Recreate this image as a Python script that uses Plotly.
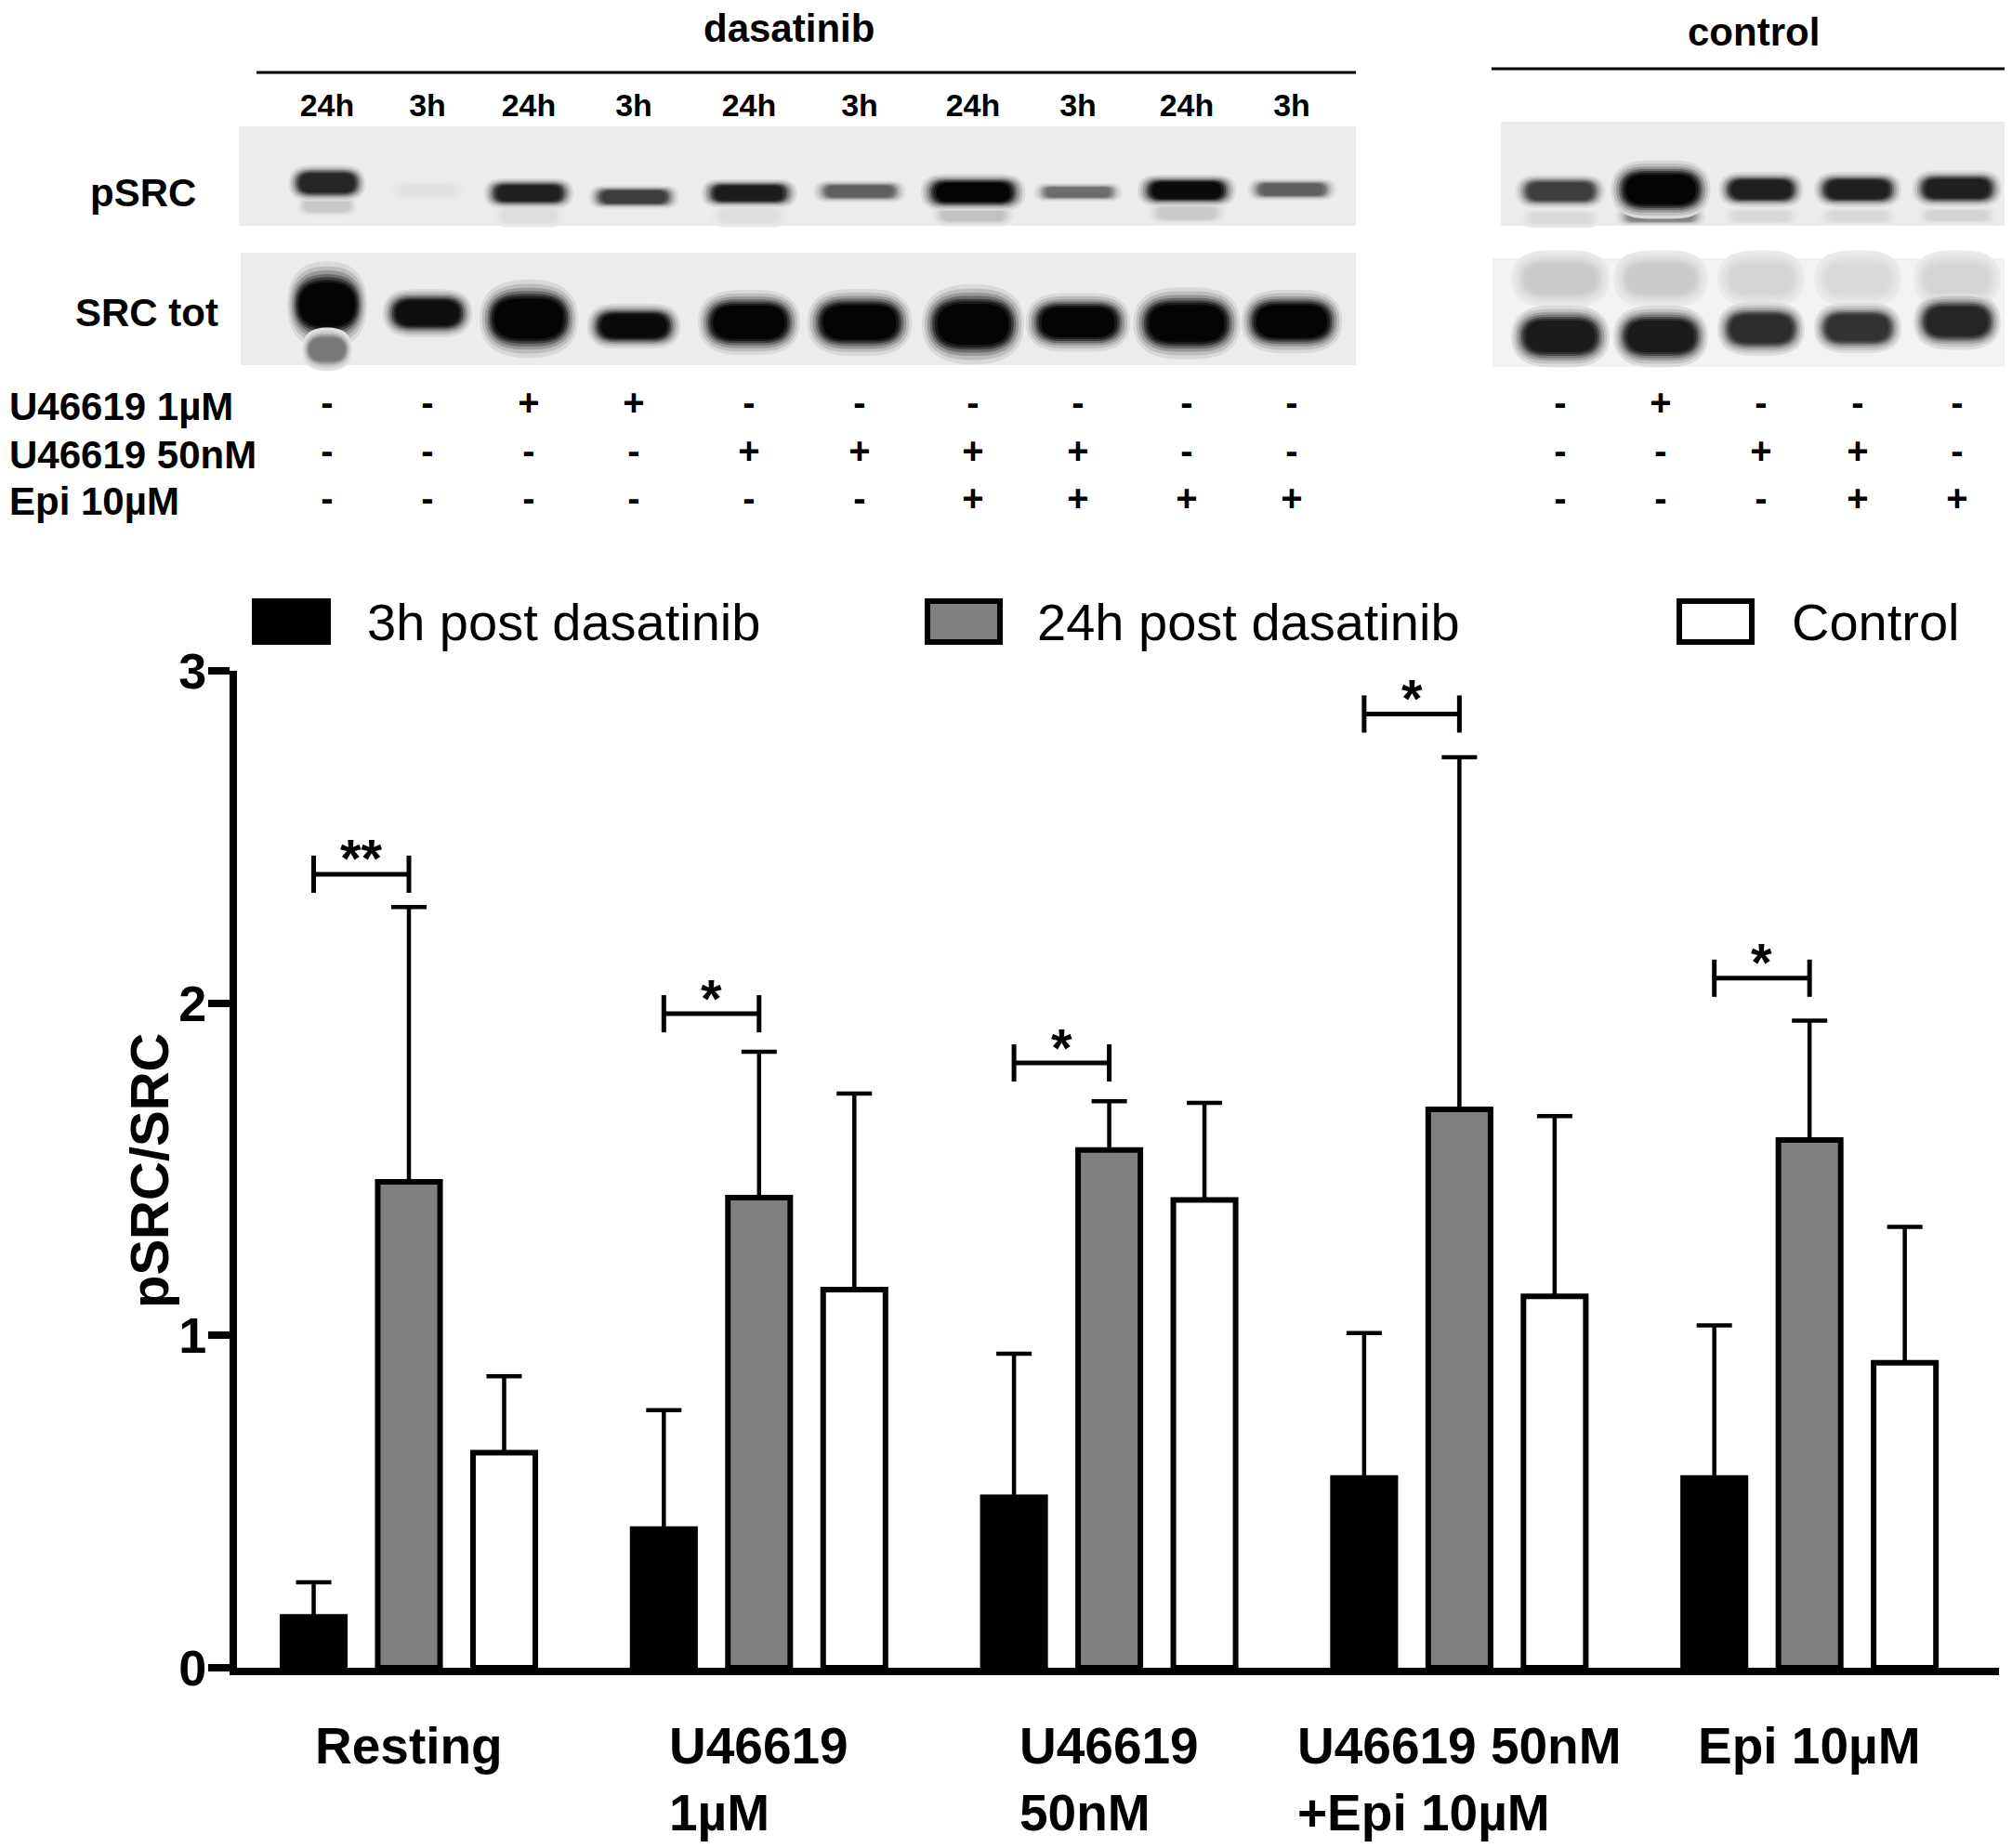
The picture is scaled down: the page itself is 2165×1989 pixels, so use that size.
import plotly.graph_objects as go

W, H = 2165, 1989
PAGE = 8   # the page body margin shifts the figure by this many pixels
FONT = "Liberation Sans, Arial, sans-serif"

# ---- bar chart: pSRC/SRC ratio (mean, upper error)
groups = ["Resting", "U46619<br>1µM", "U46619<br>50nM", "U46619 50nM<br>+Epi 10µM", "Epi 10µM"]
mean_3h = [0.153, 0.417, 0.513, 0.571, 0.571]
err_3h = [0.104, 0.358, 0.432, 0.436, 0.459]
mean_24h = [1.462, 1.415, 1.558, 1.680, 1.588]
err_24h = [0.827, 0.439, 0.147, 1.060, 0.359]
mean_ctrl = [0.647, 1.138, 1.408, 1.118, 0.918]
err_ctrl = [0.230, 0.590, 0.292, 0.542, 0.409]
sig_text = ["**", "*", "*", "*", "*"]
sig_y = [2.388, 1.968, 1.82, 2.87, 2.075]

# ---- western blot panel
lane_time = ["24h", "3h"] * 5
u1_das = ["-", "-", "+", "+", "-", "-", "-", "-", "-", "-"]
u50_das = ["-", "-", "-", "-", "+", "+", "+", "+", "-", "-"]
epi_das = ["-", "-", "-", "-", "-", "-", "+", "+", "+", "+"]
u1_ctrl = ["-", "+", "-", "-", "-"]
u50_ctrl = ["-", "-", "+", "+", "-"]
epi_ctrl = ["-", "-", "-", "+", "+"]
row_labels = ["U46619 1µM", "U46619 50nM", "Epi 10µM"]

# band darkness 0..1
psrc_das = [0.85, 0.04, 0.88, 0.75, 0.9, 0.6, 1.0, 0.55, 0.97, 0.6]
psrc_das_low = [0.15, 0.0, 0.06, 0.0, 0.06, 0.0, 0.18, 0.0, 0.14, 0.0]
src_das = [1.0, 0.95, 1.0, 0.97, 1.0, 1.0, 1.0, 1.0, 1.0, 1.0]
psrc_ctrl = [0.75, 1.0, 0.88, 0.88, 0.88]
psrc_ctrl_low = [0.08, 0.45, 0.08, 0.08, 0.1]
src_ctrl = [0.9, 0.9, 0.82, 0.8, 0.85]
src_ctrl_haze = [0.14, 0.14, 0.1, 0.08, 0.1]

# band geometry (blot pixel space)
DAS_X = [352, 460, 569, 682, 806, 925, 1047, 1160, 1277, 1390]
CTRL_X = [1679, 1787, 1895, 1999, 2106]
PSRC_DAS_Y = [197, 205, 208, 212, 208, 206, 207, 207, 205, 204]
PSRC_DAS_W = [62, 60, 72, 72, 77, 74, 84, 71, 79, 71]
PSRC_DAS_H = [22, 12, 18, 14, 17, 13, 22, 11, 19, 13]
SRC_DAS_Y = [328, 337, 343, 351, 347, 347, 349, 347, 348, 346]
SRC_DAS_W = [64, 72, 79, 75, 82, 84, 82, 84, 86, 81]
SRC_DAS_H = [52, 29, 47, 27, 39, 40, 48, 35, 43, 38]
PSRC_CTRL_Y = [206, 204, 204, 204, 203]
PSRC_CTRL_W = [72, 80, 68, 70, 72]
PSRC_CTRL_H = [20, 35, 21, 21, 22]
SRC_CTRL_Y = [362, 362, 354, 353, 346]
SRC_CTRL_W = [79, 76, 70, 70, 70]
SRC_CTRL_H = [37, 37, 32, 30, 34]
SIGN_Y = [437, 489, 540]

OFF = 0.272   # bar offset inside a group
BW = 0.178    # bar width


def fx(x):
    return (x - PAGE) / W


def fy(y):
    return 1 - (y - PAGE) / H


fig = go.Figure()

xs = list(range(len(groups)))
for off, mean, err, col in ((-OFF, mean_3h, err_3h, "black"),
                            (0, mean_24h, err_24h, "#808080"),
                            (OFF, mean_ctrl, err_ctrl, "white")):
    fig.add_trace(go.Bar(
        x=[k + off for k in xs], y=mean, width=BW,
        marker=dict(color=col, line=dict(color="black", width=6)),
        error_y=dict(type="data", array=err, arrayminus=[0] * len(err), symmetric=False,
                     color="black", thickness=4.5, width=19),
        xaxis="x", yaxis="y"))

# significance brackets between 3h and 24h bars
bx, by = [], []
for k, sy in enumerate(sig_y):
    xl, xr = k - OFF, k
    d = 0.056
    bx += [xl, xl, None, xl, xr, None, xr, xr, None]
    by += [sy - d, sy + d, None, sy, sy, None, sy - d, sy + d, None]
fig.add_trace(go.Scatter(x=bx, y=by, mode="lines", line=dict(color="black", width=5),
                         cliponaxis=False, hoverinfo="skip"))

ann = []
for k, (txt, sy) in enumerate(zip(sig_text, sig_y)):
    ann.append(dict(text=txt, x=k - OFF / 2, y=sy, xref="x", yref="y", showarrow=False,
                    xanchor="center", yanchor="middle", yshift=17,
                    font=dict(family=FONT, size=58, weight="bold", color="black")))

# ---- blot panel drawn on a pixel-space axis pair
LAYERS = ((1.34, 1.8, 0.08), (1.27, 1.6, 0.2), (1.2, 1.42, 0.36), (1.13, 1.27, 0.55),
          (1.07, 1.14, 0.75), (1.01, 1.03, 0.9), (0.94, 0.92, 1.0))


def band(x, y, w, h, k):
    if k <= 0:
        return
    for gw, gh, frac in LAYERS:
        g = int(236 - (236 - 4) * k * frac)
        ww, hh = w * gw / 2, h * gh / 2
        x0, x1, y0, y1 = x - ww, x + ww, y - hh, y + hh
        rx, ry = min(ww, hh * 1.3), hh
        path = (f"M{x0 + rx},{y0} L{x1 - rx},{y0} Q{x1},{y0} {x1},{y0 + ry} "
                f"L{x1},{y1 - ry} Q{x1},{y1} {x1 - rx},{y1} L{x0 + rx},{y1} "
                f"Q{x0},{y1} {x0},{y1 - ry} L{x0},{y0 + ry} Q{x0},{y0} {x0 + rx},{y0} Z")
        fig.add_shape(type="path", path=path, xref="x2", yref="y2",
                      fillcolor=f"rgb({g},{g},{g})", line_width=0)


for x0, x1, y0, y1, c in ((257, 1459, 136, 243, "#ececec"), (259, 1459, 272, 393, "#ececec"),
                          (1615, 2160, 131, 243, "#ececec"), (1606, 2160, 278, 395, "#f2f2f2")):
    fig.add_shape(type="rect", xref="x2", yref="y2", x0=x0, x1=x1, y0=y0, y1=y1,
                  fillcolor=c, line_width=0)

for i, x in enumerate(DAS_X):
    band(x, PSRC_DAS_Y[i] + 24, PSRC_DAS_W[i] * 0.8, 14, psrc_das_low[i])
    band(x, PSRC_DAS_Y[i], PSRC_DAS_W[i], PSRC_DAS_H[i], psrc_das[i])
    band(x, SRC_DAS_Y[i], SRC_DAS_W[i], SRC_DAS_H[i], src_das[i])
band(DAS_X[0], 376, 40, 26, 0.5)
for i, x in enumerate(CTRL_X):
    band(x, PSRC_CTRL_Y[i] + 29, PSRC_CTRL_W[i] * 0.9, 11, psrc_ctrl_low[i])
    band(x, PSRC_CTRL_Y[i], PSRC_CTRL_W[i], PSRC_CTRL_H[i], psrc_ctrl[i])
    band(x, 300, SRC_CTRL_W[i], 34, src_ctrl_haze[i])
    band(x, SRC_CTRL_Y[i], SRC_CTRL_W[i], SRC_CTRL_H[i], src_ctrl[i])

fig.add_shape(type="line", xref="x2", yref="y2", x0=276, x1=1459, y0=78, y1=78,
              line=dict(color="black", width=3))
fig.add_shape(type="line", xref="x2", yref="y2", x0=1605, x1=2159, y0=74, y1=74,
              line=dict(color="black", width=3))

bold40 = dict(family=FONT, size=40, weight="bold", color="black")
fig.add_trace(go.Scatter(x=DAS_X, y=[116] * 10, mode="text", text=lane_time,
                         textfont=dict(family=FONT, size=34, weight="bold", color="black"),
                         xaxis="x2", yaxis="y2"))
for sy, das, ctrl in zip(SIGN_Y, (u1_das, u50_das, epi_das), (u1_ctrl, u50_ctrl, epi_ctrl)):
    fig.add_trace(go.Scatter(x=DAS_X + CTRL_X, y=[sy] * 15, mode="text", text=das + ctrl,
                             textfont=bold40, xaxis="x2", yaxis="y2"))

bold42 = dict(family=FONT, size=42, weight="bold", color="black")
ann.append(dict(text="dasatinib", x=849, y=PAGE + 1, xref="x2", yref="y2", showarrow=False,
                xanchor="center", yanchor="top", yshift=4, font=bold42))
ann.append(dict(text="control", x=1887, y=PAGE + 1, xref="x2", yref="y2", showarrow=False,
                xanchor="center", yanchor="top", font=bold42))
for txt, x, y in (("pSRC", 154, 207), ("SRC tot", 158, 336)):
    ann.append(dict(text=txt, x=x, y=y, xref="x2", yref="y2", showarrow=False,
                    xanchor="center", yanchor="middle", font=bold42))
for txt, y in zip(row_labels, SIGN_Y):
    ann.append(dict(text=txt, x=0, y=fy(y), xref="paper", yref="paper", showarrow=False,
                    xanchor="left", yanchor="middle", font=bold42))

# category labels (left aligned lines, like the original)
for k, g in enumerate(groups):
    ann.append(dict(text=g, x=k, y=fy(1846), xref="x", yref="paper", showarrow=False,
                    xanchor="center", yanchor="top", align="left",
                    font=dict(family=FONT, size=55, weight="bold", color="black")))
ann.append(dict(text="pSRC/SRC", x=fx(160), y=fy(1260), xref="paper", yref="paper",
                showarrow=False, textangle=-90, xanchor="center", yanchor="middle",
                font=dict(family=FONT, size=58, weight="bold", color="black")))

# legend
for (x0, x1), col, txt, tx in (((274, 353), "black", "3h post dasatinib", 393),
                               ((998, 1076), "#808080", "24h post dasatinib", 1114),
                               ((1807, 1885), "white", "Control", 1926)):
    fig.add_shape(type="rect", xref="paper", yref="paper", x0=fx(x0), x1=fx(x1),
                  y0=fy(691), y1=fy(647), fillcolor=col, line=dict(color="black", width=6))
    ann.append(dict(text=txt, x=fx(tx), y=fy(670), xref="paper", yref="paper", showarrow=False,
                    xanchor="left", yanchor="middle", font=dict(family=FONT, size=56, color="black")))

fig.update_layout(
    width=W, height=H, margin=dict(l=0, r=0, t=0, b=0, pad=0, autoexpand=False),
    font=dict(family=FONT, color="black"),
    paper_bgcolor="white", plot_bgcolor="rgba(0,0,0,0)",
    showlegend=False, barmode="overlay", annotations=ann,
    xaxis=dict(domain=[fx(255), fx(2151)], range=[-0.491, 4.541], anchor="y", automargin=False,
               showline=True, linewidth=8, linecolor="black", showticklabels=False,
               ticks="", showgrid=False, zeroline=False, fixedrange=True),
    yaxis=dict(domain=[fy(1795), fy(722)], range=[0, 3], anchor="x", automargin=False,
               tickvals=[0, 1, 2, 3], ticks="outside", ticklen=23, tickwidth=8, tickcolor="black",
               ticklabelstandoff=-9,
               tickfont=dict(family=FONT, size=54, weight="bold", color="black"),
               showline=True, linewidth=8, linecolor="black", showgrid=False, zeroline=False,
               fixedrange=True),
    xaxis2=dict(domain=[0, 1], range=[PAGE, W + PAGE], anchor="y2", visible=False, fixedrange=True,
                automargin=False),
    yaxis2=dict(domain=[0, 1], range=[H + PAGE, PAGE], anchor="x2", visible=False, fixedrange=True,
                automargin=False),
)

fig.write_html("out.html")
